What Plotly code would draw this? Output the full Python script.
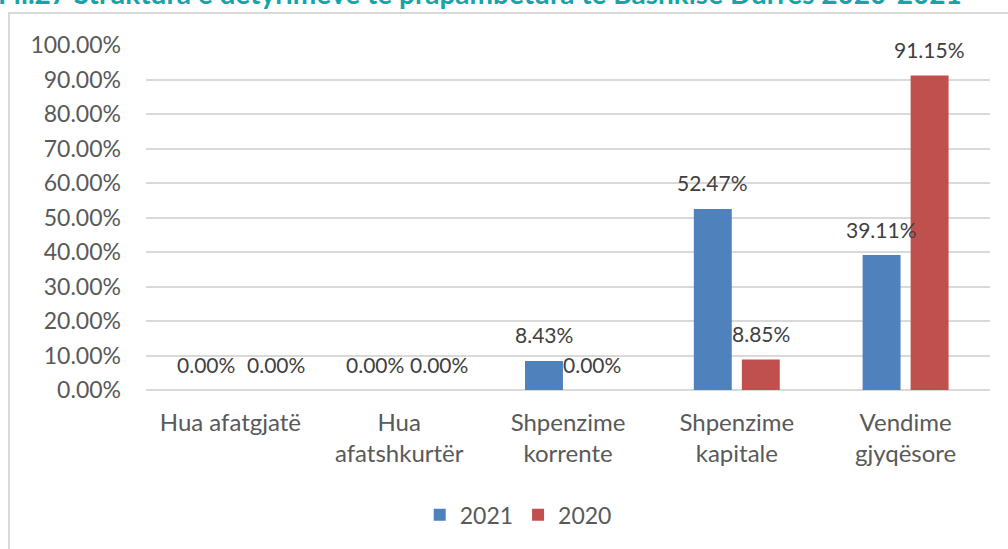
import plotly.graph_objects as go

# Categories of overdue liabilities and their shares by year
categories = ["Hua afatgjatë", "Hua<br>afatshkurtër", "Shpenzime<br>korrente",
              "Shpenzime<br>kapitale", "Vendime<br>gjyqësore"]
share_2021 = [0.0, 0.0, 0.0843, 0.5247, 0.3911]
share_2020 = [0.0, 0.0, 0.0, 0.0885, 0.9115]
series_names = ["2021", "2020"]

title_text = "Fil.27 Struktura e detyrimeve të prapambetura të Bashkisë Durrës 2020-2021"

BLUE = "#4F81BD"
RED = "#C0504D"
FONT = "Lato"

fig = go.Figure()
fig.add_trace(go.Bar(x=categories, y=share_2021, name=series_names[0],
                     marker=dict(color=BLUE, line=dict(width=0))))
fig.add_trace(go.Bar(x=categories, y=share_2020, name=series_names[1],
                     marker=dict(color=RED, line=dict(width=0))))

# Value labels above each bar (small nudges keep adjacent zero labels apart)
bar_offset = 24
label_nudge = {(0, 1): 22, (1, 1): 16}
for s, values in enumerate([share_2021, share_2020]):
    for i, v in enumerate(values):
        fig.add_annotation(
            x=categories[i], y=v, xref="x", yref="y",
            text=f"{v * 100:.2f}%", showarrow=False,
            xshift=(-bar_offset if s == 0 else bar_offset) + label_nudge.get((i, s), 0),
            yshift=26, yanchor="middle",
            font=dict(family=FONT, size=21, color="#404040"),
        )

# Title, partly above the visible page
fig.add_annotation(
    text=f"<b>{title_text}</b>", xref="paper", yref="paper",
    x=0.396, y=1, xanchor="center", yanchor="bottom", yshift=33,
    showarrow=False, font=dict(family=FONT, size=28, color="#17A3A9"),
)

# Chart frame
fig.add_shape(type="rect", xref="paper", yref="paper",
              x0=-0.1623, x1=1.05, y0=-0.6, y1=1.0928,
              line=dict(color="#D9D9D9", width=2), layer="below")

fig.update_layout(
    width=1008, height=549,
    margin=dict(l=146, r=18, t=45, b=159),
    paper_bgcolor="white", plot_bgcolor="white",
    barmode="group", bargap=0.431, bargroupgap=0.21,
    font=dict(family=FONT, size=23, color="#595959"),
    showlegend=True,
    legend=dict(orientation="h", x=0.441, y=-0.362, xanchor="center", yanchor="middle",
                font=dict(family=FONT, size=23, color="#595959"),
                itemwidth=30, tracegroupgap=0),
    xaxis=dict(showgrid=False, showline=False, ticks="", ticklabelstandoff=16,
               tickfont=dict(family=FONT, size=24, color="#595959")),
    yaxis=dict(range=[0, 1.0], dtick=0.1, tickformat=".2%", showgrid=True,
               gridcolor="#D9D9D9", gridwidth=1.5, zeroline=True,
               zerolinecolor="#D9D9D9", zerolinewidth=1.5, showline=False,
               ticks="", ticklabelstandoff=24,
               tickfont=dict(family=FONT, size=23, color="#595959")),
)

fig.write_html("out.html")
